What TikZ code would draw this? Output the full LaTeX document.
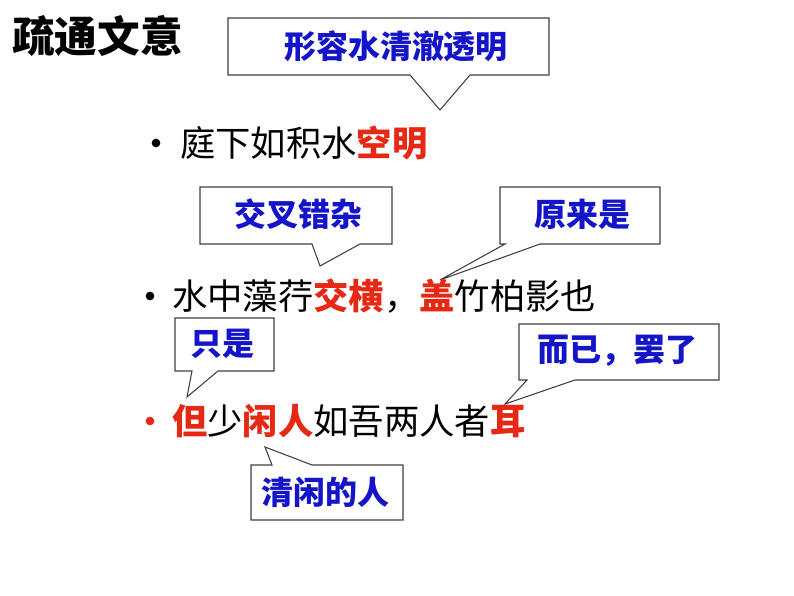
\documentclass[tikz,border=0pt]{standalone}
\usepackage{fontspec}
\newfontfamily\cjk{Noto Sans CJK SC}
\definecolor{cb}{RGB}{20,20,200}
\definecolor{cr}{RGB}{230,40,20}
\newcommand{\hl}[1]{\textcolor{cr}{\bfseries #1}}
\begin{document}
\begin{tikzpicture}[x=0.75pt,y=-0.75pt,
  co/.style={draw=black!75,fill=white,line width=0.8pt,line join=miter},
  ct/.style={font=\cjk\bfseries\fontsize{24}{28}\selectfont,text=cb,anchor=center},
  ln/.style={font=\cjk\fontsize{26.5}{30}\selectfont,anchor=west,inner sep=0pt},
  bl/.style={circle,fill,inner sep=0pt,minimum size=6.5pt}]
\useasboundingbox (0,0) rectangle (794,596);
\node[font=\cjk\bfseries\fontsize{32}{36}\selectfont,anchor=west,inner sep=0pt] (title) at (12,36) {疏通文意};
% callouts
\draw[co] (228,18)--(549,18)--(549,75)--(470,75)--(440,110)--(410,75)--(228,75)--cycle;
\node[ct] (c1) at (396,46) {形容水清澈透明};
\draw[co] (200,187)--(392,187)--(392,244)--(360,244)--(320,266)--(312,244)--(200,244)--cycle;
\node[ct] (c2) at (298,214) {交叉错杂};
\draw[co] (500,187)--(660,187)--(660,244)--(540,244)--(440,280)--(505,244)--(500,244)--cycle;
\node[ct] (c3) at (582,214) {原来是};
\draw[co] (175,318)--(274,318)--(274,371)--(218,371)--(187,397)--(192,371)--(175,371)--cycle;
\node[ct] (c4) at (222,344) {只是};
\draw[co] (519,324)--(719,324)--(719,380)--(575,380)--(505,404)--(527,380)--(519,380)--cycle;
\node[ct] (c5) at (617,351) {而已，罢了};
\draw[co] (251,465)--(272,465)--(265,447)--(312,465)--(403,465)--(403,520)--(251,520)--cycle;
\node[ct] (c6) at (325,492) {清闲的人};
% lines
\node[bl] (b1) at (156,143) {};
\node[ln] (l1) at (180,143) {庭下如积水\hl{空明}};
\node[bl] (b2) at (150,296) {};
\node[ln] (l2) at (172,296) {水中藻荇\hl{交横}，\hl{盖}竹柏影也};
\node[bl,fill=cr] (b3) at (150,421) {};
\node[ln] (l3) at (172,421) {\hl{但}少\hl{闲人}如吾两人者\hl{耳}};
\end{tikzpicture}
\end{document}
